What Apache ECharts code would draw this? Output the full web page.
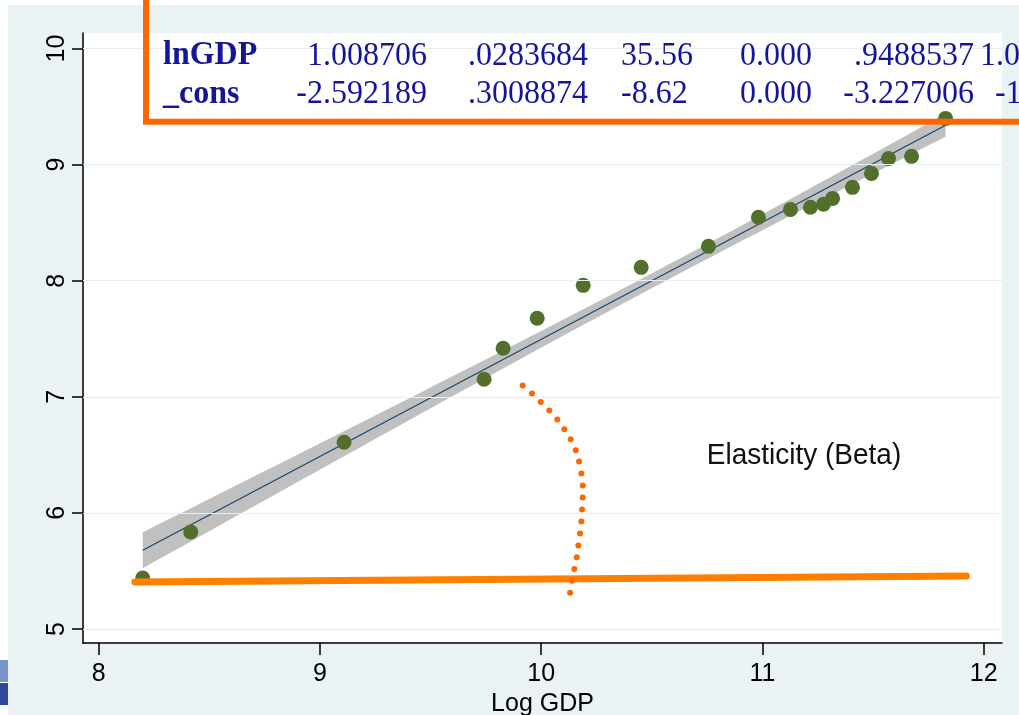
<!DOCTYPE html>
<html>
<head>
<meta charset="utf-8">
<script src="https://cdn.jsdelivr.net/npm/echarts@6/dist/echarts.min.js"></script>
<style>
  html, body { margin: 0; padding: 0; background: #ffffff; overflow: hidden; }
  #chart { width: 1019px; height: 715px; }
</style>
</head>
<body>
<div id="chart"></div>
<script>
// Observations: log GDP (x) against the log outcome (y)
const logGDP  = [8.199, 8.416, 9.109, 9.742, 9.828, 9.982, 10.190, 10.452, 10.756, 10.982,
                 11.127, 11.217, 11.276, 11.317, 11.407, 11.493, 11.570, 11.674, 11.828];
const outcome = [5.439, 5.835, 6.609, 7.151, 7.418, 7.676, 7.960, 8.115, 8.296, 8.546,
                 8.614, 8.632, 8.658, 8.709, 8.804, 8.924, 9.053, 9.071, 9.398];

// Axis ticks
const xTicks = [8, 9, 10, 11, 12];
const yTicks = [5, 6, 7, 8, 9, 10];
const xTitle = 'Log GDP';

// Regression table rows
const tableRows = ['lnGDP', '_cons'];
const coef      = ['1.008706', '-2.592189'];
const stdErr    = ['.0283684', '.3008874'];
const tStat     = ['35.56', '-8.62'];
const pValue    = ['0.000', '0.000'];
const ciLow     = ['.9488537', '-3.227006'];
const ciHigh    = ['1.068558', '-1.957372'];

// Fitted coefficients (same numbers as the table)
const slope = 1.008706;
const intercept = -2.592189;
const tCrit = 2.10982; // t(0.975, 17)

// Annotation: dotted arc marking the slope angle, and the horizontal reference bar
const arcX = [9.9165, 9.9586, 9.9979, 10.0368, 10.0730, 10.1047, 10.1336, 10.1562, 10.1712, 10.1816,
              10.1879, 10.1879, 10.1848, 10.1816, 10.1757, 10.1680, 10.1608, 10.1499, 10.1395, 10.1305];
const arcY = [7.0973, 7.0284, 6.9561, 6.8821, 6.8046, 6.7212, 6.6351, 6.5404, 6.4432, 6.3399,
              6.2367, 6.1334, 6.0301, 5.9269, 5.8236, 5.7203, 5.6170, 5.5164, 5.4157, 5.3124];
const baseX = [8.163, 11.922];
const baseY = [5.4045, 5.456];
const noteText = 'Elasticity (Beta)';

// ---- fitted line and 95% confidence band of the mean prediction ----
const n = logGDP.length;
const xMean = logGDP.reduce((a, b) => a + b, 0) / n;
const sxx = logGDP.reduce((a, x) => a + (x - xMean) * (x - xMean), 0);
const rss = logGDP.reduce((a, x, i) => {
  const r = outcome[i] - (intercept + slope * x);
  return a + r * r;
}, 0);
const sResid = Math.sqrt(rss / (n - 2));
const xLo = Math.min(...logGDP), xHi = Math.max(...logGDP);
const bandPts = [];
const steps = 60;
for (let k = 0; k <= steps; k++) {
  const x = xLo + (xHi - xLo) * k / steps;
  const yhat = intercept + slope * x;
  const half = tCrit * sResid * Math.sqrt(1 / n + (x - xMean) * (x - xMean) / sxx);
  bandPts.push([x, yhat - half, yhat + half]);
}
const fitLine = [[xLo, intercept + slope * xLo], [xHi, intercept + slope * xHi]];

const chart = echarts.init(document.getElementById('chart'), null, { renderer: 'canvas' });

const sansFont = '"Liberation Sans", Arial, sans-serif';
const serifFont = '"Liberation Serif", "Times New Roman", serif';
const tableColor = '#15159a';
const textStretch = 1.08;

// Table text elements
const tableEls = [];
const rowY = [55.5, 94];
tableRows.forEach((name, i) => {
  const y = rowY[i];
  const mk = (text, x, align, bold) => ({
    type: 'text', silent: true, z: 20,
    x: x, y: y, scaleY: textStretch,
    style: {
      text: text, x: 0, y: 0,
      font: (bold ? 'bold ' : '') + '32px ' + serifFont,
      fill: tableColor, align: align, verticalAlign: 'middle',
      textAlign: align, textVerticalAlign: 'middle'
    }
  });
  tableEls.push(mk(name, 163, 'left', true));
  tableEls.push(mk(coef[i], 427, 'right', false));
  tableEls.push(mk(stdErr[i], 588, 'right', false));
  tableEls.push(mk(tStat[i], 621, 'left', false));
  tableEls.push(mk(pValue[i], 740, 'left', false));
  tableEls.push(mk(ciLow[i], 974, 'right', false));
  tableEls.push(mk(ciHigh[i], i === 0 ? 980 : 995, 'left', false));
});

const option = {
  animation: false,
  backgroundColor: '#ffffff',
  grid: {
    show: true, left: 83, right: 17, top: 33, bottom: 72,
    containLabel: false, outerBoundsMode: 'none',
    backgroundColor: '#ffffff', borderWidth: 0
  },
  xAxis: {
    type: 'value', min: 7.929, max: 12.083,
    name: xTitle, nameLocation: 'middle', nameGap: 42,
    nameTextStyle: { fontSize: 25, color: '#000', fontFamily: sansFont },
    axisLine: { show: true, lineStyle: { color: '#000', width: 1.5 } },
    axisTick: { show: true, length: 12, customValues: xTicks, lineStyle: { color: '#000', width: 1.5 } },
    axisLabel: { customValues: xTicks, fontSize: 25, color: '#000', fontFamily: sansFont, margin: 19 },
    splitLine: { show: false }
  },
  yAxis: {
    type: 'value', min: 4.8795, max: 10.1334,
    axisLine: { show: true, lineStyle: { color: '#000', width: 1.5 } },
    axisTick: { show: true, length: 11, customValues: yTicks, lineStyle: { color: '#000', width: 1.5 } },
    axisLabel: { customValues: yTicks, rotate: 90, fontSize: 25, color: '#000', fontFamily: sansFont, margin: 13 },
    splitLine: { show: false }
  },
  graphic: [
    // outer region
    { type: 'rect', silent: true, z: -10, shape: { x: 8, y: 5, width: 1011, height: 710 }, style: { fill: '#eaf2f3' } },
    // corner emblem fragment
    { type: 'rect', silent: true, z: 30, shape: { x: 0, y: 660, width: 8, height: 22 }, style: { fill: '#7a96c8' } },
    { type: 'rect', silent: true, z: 30, shape: { x: 0, y: 683, width: 8, height: 22 }, style: { fill: '#2b4a9c' } },
    // box around the regression table
    { type: 'rect', silent: true, z: 25, shape: { x: 146, y: -30, width: 1000, height: 151.7 },
      style: { fill: 'none', stroke: '#ff6600', lineWidth: 6 } },
    ...tableEls,
    { type: 'text', silent: true, z: 20, x: 804, y: 456, scaleY: textStretch,
      style: { text: noteText, x: 0, y: 0, font: '28px ' + sansFont, fill: '#111',
               align: 'center', verticalAlign: 'middle', textAlign: 'center', textVerticalAlign: 'middle' } }
  ],
  series: [
    {
      // horizontal grid lines
      type: 'line', data: [], z: 1, silent: true,
      markLine: {
        silent: true, symbol: 'none', label: { show: false }, animation: false,
        lineStyle: { color: '#e6eff1', type: 'solid', width: 1.2 },
        data: yTicks.map(v => ({ yAxis: v }))
      }
    },
    {
      // confidence band
      type: 'custom', z: 2, silent: true,
      data: [[xLo, xHi]],
      renderItem: function (params, api) {
        const upper = bandPts.map(p => api.coord([p[0], p[2]]));
        const lower = bandPts.map(p => api.coord([p[0], p[1]])).reverse();
        return {
          type: 'polygon',
          shape: { points: upper.concat(lower) },
          style: { fill: '#c0c0c0', stroke: 'none' }
        };
      }
    },
    {
      // fitted line
      type: 'line', z: 3, silent: true, symbol: 'none',
      data: fitLine,
      lineStyle: { color: '#1a476f', width: 1.3 }
    },
    {
      type: 'scatter', z: 4, silent: true,
      symbol: 'circle', symbolSize: 15,
      itemStyle: { color: '#52702b', opacity: 1 },
      data: logGDP.map((x, i) => [x, outcome[i]])
    },
    {
      // reference bar
      type: 'line', z: 6, silent: true, symbol: 'none',
      data: baseX.map((x, i) => [x, baseY[i]]),
      lineStyle: { color: '#ff8000', width: 7, cap: 'round' }
    },
    {
      // dotted arc
      type: 'scatter', z: 7, silent: true,
      symbol: 'circle', symbolSize: 6,
      itemStyle: { color: '#ff6600', opacity: 1 },
      data: arcX.map((x, i) => [x, arcY[i]])
    }
  ]
};

chart.setOption(option);
</script>
</body>
</html>
